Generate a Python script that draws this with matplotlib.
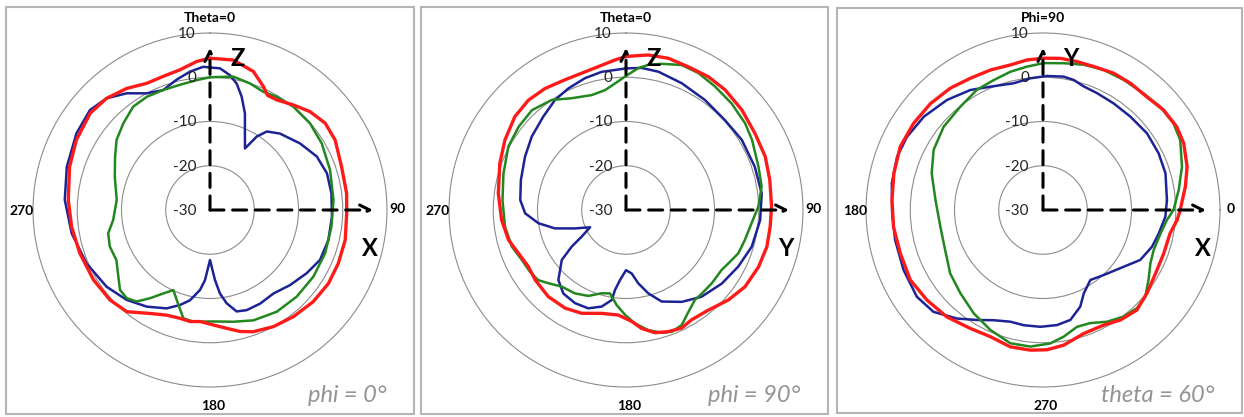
import numpy as np
import matplotlib
matplotlib.use("Agg")
import matplotlib.pyplot as plt
from matplotlib.patches import Rectangle

plt.rcParams['font.family'] = ['Lato', 'DejaVu Sans']

# ---------------- data (angle in degrees, gain in dB) ----------------
# Panel 1: phi = 0 cut, theta measured clockwise from top
p1_red_ang = [0, 8.8, 17.4, 23.4, 26.6, 31.2, 38.4, 45.5, 53, 60.8, 71.8, 83, 91.4, 102.5, 112.6, 121.8,
              131.6, 142, 151.5, 160.4, 166, 172, 178.3, 185, 190, 195.5, 202.4, 210, 219.3, 228, 239,
              251.6, 263, 274, 287, 297.7, 308.9, 317.2, 325.6, 333.4, 340.7, 347.9, 354.9]
p1_red_db = [4.3, 4.3, 2.8, 0.4, -1.0, -0.9, 0.3, 1.7, 2.6, 2.4, 1.3, 1.1, 0.9, 1.3, 1.4, 1.5,
             1.2, 0.6, 0.0, -0.8, -1.7, -3.0, -4.0, -4.7, -4.4, -4.6, -4.3, -3.0, -0.3, 0.4, 0.7,
             1.0, 1.5, 2.1, 3.2, 4.1, 4.8, 4.4, 3.3, 2.0, 2.0, 2.4, 3.7]
p1_blue_ang = [0, 4, 8.4, 11.9, 15.6, 19.9, 23.6, 29.6, 32.5, 35.9, 42.4, 53.5, 63.4, 72.6, 82.2, 93.1,
               104.2, 114.4, 123.2, 133.2, 142.8, 151.8, 159.9, 165.3, 169.9, 173.2, 175.9, 180, 184.1,
               187.1, 192.5, 197.5, 203.8, 213.2, 222.8, 233.4, 246.6, 260.4, 274, 286.8, 299.9, 309.8,
               317.2, 324.5, 331.5, 338.7, 345.6, 351.8, 357.3]
p1_blue_db = [2.2, 2.1, 0.8, -0.8, -3.4, -6.8, -10.3, -14.0, -10.3, -8.1, -6.6, -4.7, -3.0, -2.3, -2.3, -2.4,
              -2.4, -2.7, -3.9, -5.2, -6.3, -6.0, -5.9, -6.3, -8.6, -11.0, -14.1, -18.7, -14.1,
              -11.8, -9.1, -7.5, -5.7, -3.9, -2.3, -0.9, 0.4, 1.7, 2.9, 3.8, 4.8, 5.3,
              4.4, 2.4, 0.0, -0.9, 0.4, 1.6, 2.4]
p1_green_ang = [0, 9.9, 17.5, 24.3, 30.5, 38.9, 49.1, 59.2, 71.6, 85.4, 97.8, 110.6, 122.8, 135, 146.7,
                158.5, 168.2, 178.3, 188.5, 193.8, 198.4, 204.6, 209.2, 214.2, 218.7, 223.3, 228.4, 234,
                241.8, 250.1, 257.1, 264.1, 276.1, 289.3, 299.3, 306.9, 315, 323.4, 330.8, 338.7, 346.5, 354.1]
p1_green_db = [0.0, 0.6, 0.0, -0.7, -0.3, 0.0, -0.1, -0.6, -1.4, -2.0, -2.3, -2.2, -2.2, -2.3, -2.5,
               -3.2, -4.2, -4.8, -4.5, -4.8, -7.4, -10.1, -8.4, -5.9, -3.5, -2.6, -2.8, -4.4,
               -6.0, -5.9, -6.4, -8.0, -8.8, -7.2, -5.4, -3.6, -2.3, -0.9, -0.7, -0.9, -0.9, -0.5]

# Panel 2: phi = 90 cut, theta measured clockwise from top
p2_red_ang = [0, 8.2, 15.6, 23.5, 31.7, 39.5, 49.2, 59.3, 69, 78.2, 88.7, 96.6, 104.6, 113.2, 122.8, 131.3,
              140.5, 149.2, 154.8, 160.8, 166.7, 172.5, 177.1, 184.2, 193.3, 203.2, 211.8, 221.9, 232.4,
              239.9, 248.1, 255.7, 265.4, 277.4, 290.3, 300, 310, 318.4, 326.3, 334.9, 342, 349.1, 355.8]
p2_red_db = [4.7, 5.4, 5.6, 5.3, 5.4, 5.2, 4.6, 3.9, 3.7, 3.2, 2.9, 2.8, 2.9, 2.6, 2.0, 0.8,
             -0.7, -1.1, -0.5, -0.9, -1.5, -3.0, -4.8, -6.2, -6.0, -4.6, -3.9, -3.7, -4.1,
             -4.5, -3.8, -2.6, -1.8, -0.9, 0.4, 1.6, 2.8, 3.2, 3.0, 2.5, 2.5, 3.0, 4.0]
p2_blue_ang = [0, 6.3, 13.2, 23.7, 35.7, 47.7, 58.8, 71.4, 83, 94.3, 106.3, 116.8, 127.5, 138.9, 148.7,
               158.7, 165, 170.5, 174.9, 180, 184.9, 187.8, 189, 194.1, 201, 208.7, 216.9, 224, 232.1,
               236, 239, 244.3, 250.2, 255.5, 261.4, 268.1, 275.4, 285.9, 297.8, 307.9, 318.5, 327.2,
               334.6, 342.7, 350]
p2_blue_db = [2.0, 2.3, 2.1, 1.3, 0.6, 0.2, 0.6, 0.7, 0.9, 0.4, -0.4, -1.6, -2.7, -4.0, -5.7,
              -7.8, -10.5, -13.2, -15.6, -16.4, -14.1, -11.8, -9.4, -7.5, -6.2, -6.0, -6.4, -8.0, -11.6,
              -15.2, -18.3, -21.0, -17.7, -13.4, -10.0, -7.2, -6.0, -5.3, -4.2, -3.0, -1.8, -0.4,
              0.4, 1.2, 1.7]
p2_green_ang = [0, 5, 8.8, 13.7, 21, 27.9, 35.8, 44.7, 53.9, 60.9, 71.9, 80.2, 88.6, 97.7, 104.2, 111.1,
                117.5, 122.1, 130.6, 137.8, 142.5, 148.5, 154.2, 159.4, 163.8, 169.5, 175.5, 180.5, 185.6,
                190.9, 196.3, 203.7, 211.5, 220, 226.6, 231.4, 237.3, 244.4, 252.2, 262.2, 274.6, 286.6,
                298.3, 307.7, 316.7, 326, 334, 343.4, 350.1, 355]
p2_green_db = [0.3, 2.2, 3.2, 4.0, 5.1, 5.0, 4.4, 3.9, 3.3, 2.6, 1.5, 1.1, -0.1, -1.7, -2.3, -2.8,
               -3.9, -4.5, -4.5, -4.5, -4.4, -3.0, -1.1, -0.6, -1.1, -2.4, -4.3, -6.3, -8.4,
               -10.8, -10.4, -8.8, -7.9, -7.4, -5.9, -4.6, -4.2, -3.9, -2.9, -2.4, -2.0, -1.1,
               0.2, 0.7, 1.0, 0.0, -1.9, -2.9, -2.5, -1.3]

# Panel 3: theta = 60 cone, phi measured counter-clockwise from right
p3_red_ang = [0, 9.3, 16.7, 25.4, 31.9, 39.6, 47.5, 55.4, 62.7, 70.5, 77.1, 83.5, 89.7, 96.1, 102.7, 110.6,
              118.9, 127.3, 136.6, 146.2, 156.1, 166.2, 176.2, 186.4, 196.9, 207.8, 217.8, 228, 238.4,
              247.4, 256.6, 264.8, 271.6, 278.7, 288.2, 297.8, 305.1, 313.2, 321.3, 330.6, 340.2, 349.6, 355.7]
p3_red_db = [1.0, 2.6, 4.0, 5.2, 5.6, 5.4, 4.7, 4.8, 4.8, 4.4, 4.4, 4.5, 4.3, 4.1, 3.6, 3.8,
             4.0, 4.6, 5.0, 5.2, 5.3, 4.7, 4.2, 4.0, 3.7, 3.9, 3.2, 2.5, 1.4,
             1.0, 1.8, 1.8, 1.6, 0.9, -0.6, -0.6, 0.4, 1.0, 0.1, -0.8, -1.0, -0.8, 0.4]
p3_blue_ang = [4.6, 16.7, 26.1, 36.4, 46.9, 56.5, 65.2, 71.7, 76.7, 81.2, 88.3, 95.5, 103, 113.1, 121.2,
               131.1, 141.9, 151.7, 159.9, 170, 181.3, 191.5, 203.3, 214.5, 222.9, 231.6, 239, 245.8,
               253.7, 260.5, 268.7, 276.9, 284, 291.1, 296, 304.1, 313, 324.9, 332.8, 341.4, 348.6, 356.9]
p3_blue_db = [-1.9, -1.1, -0.9, -0.8, -1.1, -1.1, -0.9, -0.6, 0.2, 0.5, 0.3, -0.1, -0.6, 0.3, 1.7,
              3.0, 4.2, 4.9, 5.1, 4.7, 4.1, 4.1, 4.3, 4.6, 3.8, 1.3, -1.0, -2.7,
              -3.7, -3.6, -3.6, -3.8, -4.4, -6.6, -9.0, -10.9, -9.9, -7.7, -5.3, -4.0, -3.3, -2.3]
p3_green_ang = [0, 8.4, 17.3, 27, 33.6, 41.4, 49.2, 58.2, 66.6, 74.3, 82, 89.7, 96.4, 103.3, 110.8, 118.8,
                128.7, 140, 151.2, 161.7, 174.7, 189.2, 202.3, 214.3, 225.2, 236.1, 246.3, 256.2, 264.7,
                273.1, 279.3, 286.2, 292.7, 299.8, 307.1, 313.7, 319.7, 326.5, 333.6, 340.1, 348.8, 355.4]
p3_green_db = [-0.5, 1.0, 2.9, 4.8, 5.4, 5.3, 4.8, 4.6, 4.5, 4.1, 3.5, 3.2, 2.6, 2.1, 1.4, 1.0,
               -0.1, -0.7, -1.8, -3.5, -5.6, -6.5, -6.1, -4.6, -3.5, -1.9, -0.4, 1.0, 1.0,
               0.2, -1.0, -2.5, -2.3, -0.9, 0.2, 0.7, 0.3, -1.4, -2.9, -3.4, -2.9, -1.9]

r_ticks = [-30, -20, -10, 0, 10]
r_tick_labels = ['-30', '-20', '-10', '0', '10']

panels = [
    dict(cx=210, cy=210, frame=(6, 7, 414, 414), zero='N', direction=-1,
         series=[(p1_blue_ang, p1_blue_db), (p1_green_ang, p1_green_db), (p1_red_ang, p1_red_db)],
         angle_labels=['Theta=0', '90', '180', '270'], up='Z', right='X', caption='phi = 0'),
    dict(cx=626, cy=210, frame=(421, 7, 828, 414), zero='N', direction=-1,
         series=[(p2_blue_ang, p2_blue_db), (p2_green_ang, p2_green_db), (p2_red_ang, p2_red_db)],
         angle_labels=['Theta=0', '90', '180', '270'], up='Z', right='Y', caption='phi = 90'),
    dict(cx=1043, cy=210, frame=(837, 8, 1242, 413), zero='E', direction=1,
         series=[(p3_blue_ang, p3_blue_db), (p3_green_ang, p3_green_db), (p3_red_ang, p3_red_db)],
         angle_labels=['Phi=90', '0', '270', '180'], up='Y', right='X', caption='theta = 60'),
]
colors = ['#1c2394', '#23871f', '#ff1a1a']
widths = [1.8, 1.8, 2.4]

W, H = 1244, 417
R = 177
fig = plt.figure(figsize=(W / 100, H / 100), dpi=100)
fig.patch.set_facecolor('white')


def fx(x):
    return x / W


def fy(y):
    return 1 - y / H


for p in panels:
    x0, y0, x1, y1 = p['frame']
    fig.patches.append(Rectangle((fx(x0), fy(y1)), fx(x1 - x0), (y1 - y0) / H,
                                 transform=fig.transFigure, fill=False,
                                 edgecolor='#b5b5b5', linewidth=1.5, zorder=0))
    cx, cy = p['cx'], p['cy']
    ax = fig.add_axes([fx(cx - R), fy(cy + R), 2 * R / W, 2 * R / H], projection='polar')
    ax.set_facecolor('none')
    ax.set_theta_zero_location(p['zero'])
    ax.set_theta_direction(p['direction'])
    ax.set_ylim(-30, 10)
    ax.set_yticks([-20, -10, 0])
    ax.set_yticklabels([])
    ax.set_xticks([])
    ax.grid(True, color='#8c8c8c', linewidth=0.8)
    ax.spines['polar'].set_color('#8c8c8c')
    ax.spines['polar'].set_linewidth(0.8)

    for (ang, db), c, lw in zip(p['series'], colors, widths):
        a = np.deg2rad(np.append(ang, ang[0]))
        d = np.append(db, db[0])
        ax.plot(a, d, color=c, linewidth=lw, solid_joinstyle='round', solid_capstyle='round')

    # radial labels along vertical axis
    for v, lab in zip(r_ticks, r_tick_labels):
        ry = cy - (v - r_ticks[0]) / (r_ticks[-1] - r_ticks[0]) * R
        fig.text(fx(cx - 14), fy(ry + 1), lab, ha='right', va='center', fontsize=11, color='#222222')

    top, right, bottom, left = p['angle_labels']
    fig.text(fx(cx), fy(cy - 192), top, ha='center', va='center', fontsize=10, fontweight='bold')
    fig.text(fx(cx + 188), fy(cy - 1), right, ha='center', va='center', fontsize=10, fontweight='bold')
    fig.text(fx(cx + 3), fy(cy + 196), bottom, ha='center', va='center', fontsize=10, fontweight='bold')
    fig.text(fx(cx - 188), fy(cy + 1), left, ha='center', va='center', fontsize=10, fontweight='bold')

    # dashed axis arrows
    arrow_kw = dict(arrowstyle='->', linestyle=(0, (4.6, 2.8)), linewidth=2.2, color='black',
                    mutation_scale=18, shrinkA=0, shrinkB=0)
    ax.annotate('', xy=(0.5, 0.5 + 162 / (2 * R)), xytext=(0.5, 0.5), xycoords='axes fraction',
                textcoords='axes fraction', arrowprops=arrow_kw)
    ax.annotate('', xy=(0.5 + 163 / (2 * R), 0.5), xytext=(0.5, 0.5), xycoords='axes fraction',
                textcoords='axes fraction', arrowprops=arrow_kw)
    fig.text(fx(cx + 28), fy(cy - 152), p['up'], ha='center', va='center', fontsize=17, fontweight='bold')
    fig.text(fx(cx + 160), fy(cy + 38), p['right'], ha='center', va='center', fontsize=17, fontweight='bold')

    # caption
    fig.text(fx(x1 - 28), fy(y1 - 18), p['caption'] + '\u00b0', ha='right', va='center',
             fontsize=17, style='italic', color='#949494')

fig.savefig('out.png', dpi=100, facecolor='white')
